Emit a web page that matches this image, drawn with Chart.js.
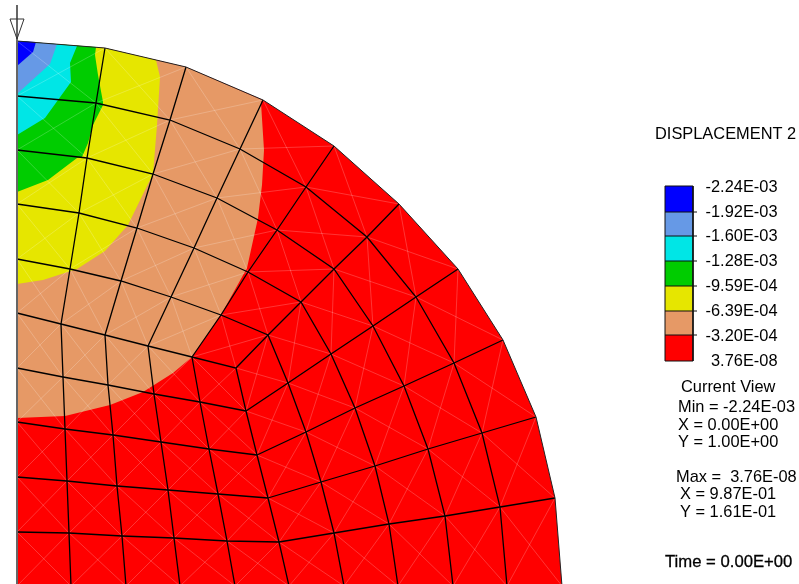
<!DOCTYPE html>
<html>
<head>
<meta charset="utf-8">
<style>html,body{margin:0;padding:0;background:#fff}canvas{display:block}</style>
<script src="https://cdn.jsdelivr.net/npm/chart.js@4"></script>
</head>
<body>
<canvas id="c" width="799" height="584"></canvas>
<script>
// Mesh node lists (view units)
const arc0 = [[17,41],[105,48],[186,67],[263,100],[334,146],[399,204],[458,269],[503,340],[536,417],[555,498],[562,586]];
const arc1 = [[17,96],[96,103],[170,120],[240,149],[306,187],[367,237],[416,297],[454,363],[482,433],[500,507],[507,586]];
const arc2 = [[17,150],[87,158],[153,174],[217,198],[277,230],[334,269],[373,326],[404,386],[428,449],[445,516],[453,586]];
const arc3 = [[17,204],[79,213],[137,228],[194,248],[248,272],[301,302],[331,354],[355,408],[375,466],[389,524],[398,586]];
const arc4 = [[17,259],[70,269],[121,281],[171,297],[221,315],[268,335],[288,383],[306,432],[321,482],[334,533],[344,586]];
const arc5 = [[17,313],[61,324],[105,335],[148,346],[192,357],[236,368],[246,411],[257,455],[268,498],[279,542],[289,586]];
const row1 = [[17,368],[63,377],[108,385],[154,394],[200,402],[246,411]];
const row2 = [[17,422],[65,429],[113,435],[161,442],[209,449],[257,455]];
const row3 = [[17,477],[67,481],[117,486],[168,490],[218,494],[268,498]];
const row4 = [[17,532],[69,533],[122,536],[174,538],[227,541],[279,542]];
const row5 = [[17,586],[71,586],[126,586],[180,586],[235,586],[289,586]];

// Contour regions (nested)
const bandOrange = [[17,41],[105,48],[186,67],[262,100],[261,103],[264,150],[262,185],[258,218],[247,268],[222,313],[192,357],[173,373],[143,392],[110,405],[65,416],[17,418]];
const bandYellow = [[17,41],[105,48],[156,60],[160,77],[157,125],[153,174],[145,190],[128,225],[105,251],[77,269],[43,280],[17,284]];
const bandGreen  = [[17,41],[96,47],[95,55],[98,75],[103,102],[103,105],[93,125],[88,143],[82,157],[77,158],[48,180],[17,192]];
const bandCyan   = [[17,41],[77,46],[70,63],[71,82],[45,118],[17,135]];
const bandSky    = [[17,41],[57,44],[50,64],[17,94]];
const bandBlue   = [[17,41],[36,42],[33,52],[17,66]];

// Legend
const legendLabels = ["-2.24E-03","-1.92E-03","-1.60E-03","-1.28E-03","-9.59E-04","-6.39E-04","-3.20E-04","3.76E-08"];
const legendColors = ["#0000ff","#6699e6","#00e6e6","#00cc00","#e6e600","#e69966","#ff0000"];
const legendEdges = [186,212,236,261,286,311,335,361];
const legendTextY = [187,212,236,261,286,311,336,361];
const title = "DISPLACEMENT 2";
const infoLines = [
  ["Current View",681,387],["Min = -2.24E-03",678,407],["X = 0.00E+00",678,425],["Y = 1.00E+00",678,442],
  ["Max =  3.76E-08",676,477],["X = 9.87E-01",680,494],["Y = 1.61E-01",680,512]
];
const timeLine = ["Time = 0.00E+00",665,562];

const pts = a => a.map(p => ({x:p[0], y:p[1]}));
const GAP = {x:null, y:null};
const arcs = [arc0,arc1,arc2,arc3,arc4,arc5];
const rows = [arc5.slice(0,6),row1,row2,row3,row4,row5];
const datasets = [];
const poly = (a,color) => datasets.push({data:pts(a),showLine:true,fill:'shape',backgroundColor:color,borderColor:color,borderWidth:0,pointRadius:0,tension:0});
const line = (a,color,w) => datasets.push({data:a,showLine:true,fill:false,borderColor:color,borderWidth:w,pointRadius:0,tension:0,spanGaps:false});

// filled body and contour bands
poly(arc0.concat([[17,586]]),"#ff0000");
poly(bandOrange,"#e69966");
poly(bandYellow,"#e6e600");
poly(bandGreen,"#00cc00");
poly(bandCyan,"#00e6e6");
poly(bandSky,"#6699e6");
poly(bandBlue,"#0000ff");

// element diagonals (thin pale lines)
function diagonals(grid){
  const out=[];
  for(let i=0;i<grid.length-1;i++)for(let k=0;k<grid[i].length-1;k++){
    const a=grid[i][k],b=grid[i][k+1],c=grid[i+1][k+1],d=grid[i+1][k];
    out.push({x:a[0],y:a[1]},{x:c[0],y:c[1]},GAP,{x:b[0],y:b[1]},{x:d[0],y:d[1]},GAP);
  }
  return out;
}
line(diagonals(arcs).concat(diagonals(rows)),"rgba(255,255,255,0.3)",0.7);

// mesh lines
arcs.slice(1).forEach(a=>line(pts(a),"#000",1.3));
rows.slice(1,5).forEach(a=>line(pts(a),"#000",1.3));
for(let k=1;k<arc0.length;k++) line(pts(arcs.map(a=>a[k])),"#000",1.3);
for(let j=1;j<5;j++) line(pts(rows.map(r=>r[j])),"#000",1.3);
// outer boundary, symmetry edge, load arrow
line(pts(arc0),"#222",1);
line(pts([[17,5],[17,584]]),"#666",2);
line(pts([[10,19],[24,19],[17,39],[10,19]]),"#333",1);

// legend boxes and ticks
legendColors.forEach((c,i)=>{
  const t=legendEdges[i],b=legendEdges[i+1];
  poly([[665,t],[693,t],[693,b],[665,b]],c);
});
line(pts([[665,186],[693,186],[693,361],[665,361],[665,186]]),"#111",1);
legendEdges.slice(1,7).forEach(y=>line(pts([[665,y],[697,y]]),"#111",1));

// Chart.js paints the first dataset last, so list them back to front
datasets.reverse();

const textPlugin = {
  id:'texts',
  afterDraw(chart){
    const g=chart.ctx; g.save();
    g.fillStyle="#000"; g.textBaseline="middle"; g.font="16.4px 'Liberation Sans'";
    g.textAlign="left"; g.fillText(title,655,134);
    g.textAlign="right";
    legendLabels.forEach((s,i)=>g.fillText(s,777.5,legendTextY[i]));
    g.textAlign="left";
    infoLines.forEach(l=>g.fillText(l[0],l[1],l[2]));
    g.font="16.7px 'Liberation Sans'";
    g.strokeStyle="#000"; g.lineWidth=0.3;
    g.fillText(timeLine[0],timeLine[1],timeLine[2]);
    g.strokeText(timeLine[0],timeLine[1],timeLine[2]);
    g.restore();
  }
};

new Chart(document.getElementById('c'),{
  type:'scatter',
  data:{datasets},
  plugins:[textPlugin],
  options:{
    responsive:false,animation:false,
    layout:{padding:0},
    plugins:{legend:{display:false},tooltip:{enabled:false},title:{display:false}},
    events:[],
    scales:{
      x:{type:'linear',display:false,min:0,max:799},
      y:{type:'linear',display:false,min:0,max:584,reverse:true}
    }
  }
});
</script>
</body>
</html>
